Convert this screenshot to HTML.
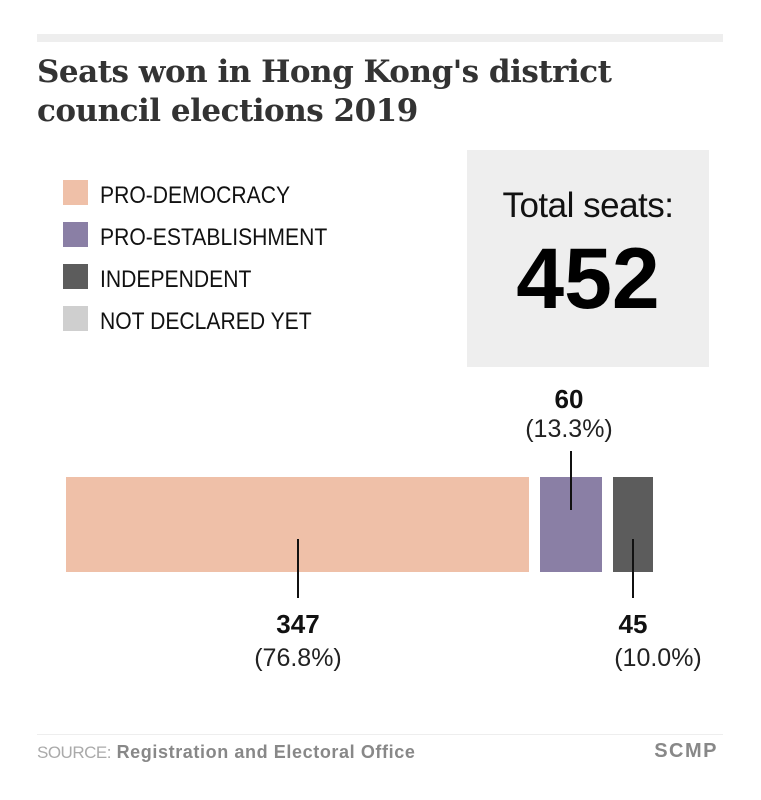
<!DOCTYPE html>
<html><head><meta charset="utf-8"><style>
*{margin:0;padding:0}
body{width:761px;height:800px;background:#fff;position:relative;overflow:hidden;font-family:"Liberation Sans",sans-serif}
.a{position:absolute}
.t{font-family:"DejaVu Serif","Liberation Serif",serif;font-weight:bold;font-size:31px;color:#333;left:37px;line-height:38px;letter-spacing:-0.5px}
.sw{position:absolute;left:63px;width:25px;height:25px}
.lg{position:absolute;left:100px;font-size:24px;color:#111;line-height:25px;transform:scaleX(0.88);transform-origin:left;white-space:nowrap}
.b{font-weight:bold;font-size:26px;color:#111;text-align:center;width:120px}
.p{font-size:25px;color:#222;text-align:center;width:120px}
.ln{position:absolute;width:2px;background:#111}
</style></head><body>
<div class="a" style="left:37px;top:34px;width:686px;height:8px;background:#eeeeee"></div>
<div class="a t" style="top:53px">Seats won in Hong Kong's district</div>
<div class="a t" style="top:92px">council elections 2019</div>
<div class="sw" style="top:180px;background:#efc0a8"></div><div class="lg" style="top:183px">PRO-DEMOCRACY</div>
<div class="sw" style="top:222px;background:#8a7fa5"></div><div class="lg" style="top:225px">PRO-ESTABLISHMENT</div>
<div class="sw" style="top:264px;background:#5c5c5c"></div><div class="lg" style="top:267px">INDEPENDENT</div>
<div class="sw" style="top:306px;background:#cfcfcf"></div><div class="lg" style="top:309px">NOT DECLARED YET</div>
<div class="a" style="left:467px;top:150px;width:242px;height:217px;background:#eeeeee"></div>
<div class="a" style="left:467px;top:188px;width:242px;text-align:center;font-size:35px;line-height:35px;color:#111;letter-spacing:-0.5px">Total seats:</div>
<div class="a" style="left:467px;top:236px;width:242px;text-align:center;font-size:86px;line-height:86px;color:#000;font-weight:bold">452</div>
<div class="a" style="left:66px;top:477px;width:463px;height:95px;background:#efc0a8"></div>
<div class="a" style="left:540px;top:477px;width:62px;height:95px;background:#8a7fa5"></div>
<div class="a" style="left:613px;top:477px;width:40px;height:95px;background:#5c5c5c"></div>
<div class="ln" style="left:297px;top:539px;height:59px"></div>
<div class="ln" style="left:570px;top:451px;height:59px"></div>
<div class="ln" style="left:632px;top:539px;height:59px"></div>
<div class="a b" style="left:509px;top:384px">60</div>
<div class="a p" style="left:509px;top:415px">(13.3%)</div>
<div class="a b" style="left:238px;top:609px">347</div>
<div class="a p" style="left:238px;top:644px">(76.8%)</div>
<div class="a b" style="left:573px;top:609px">45</div>
<div class="a p" style="left:598px;top:644px">(10.0%)</div>
<div class="a" style="left:37px;top:734px;width:686px;height:1px;background:#eee"></div>
<div class="a" style="left:37px;top:742px;font-size:18px;color:#888;letter-spacing:0.6px;white-space:nowrap"><span style="color:#aaa;font-size:17px;letter-spacing:-0.5px">SOURCE:</span> <b>Registration and Electoral Office</b></div>
<div class="a" style="left:630px;top:740px;width:88px;text-align:right;font-size:20px;font-weight:bold;color:#888;letter-spacing:1.5px">SCMP</div>
</body></html>
